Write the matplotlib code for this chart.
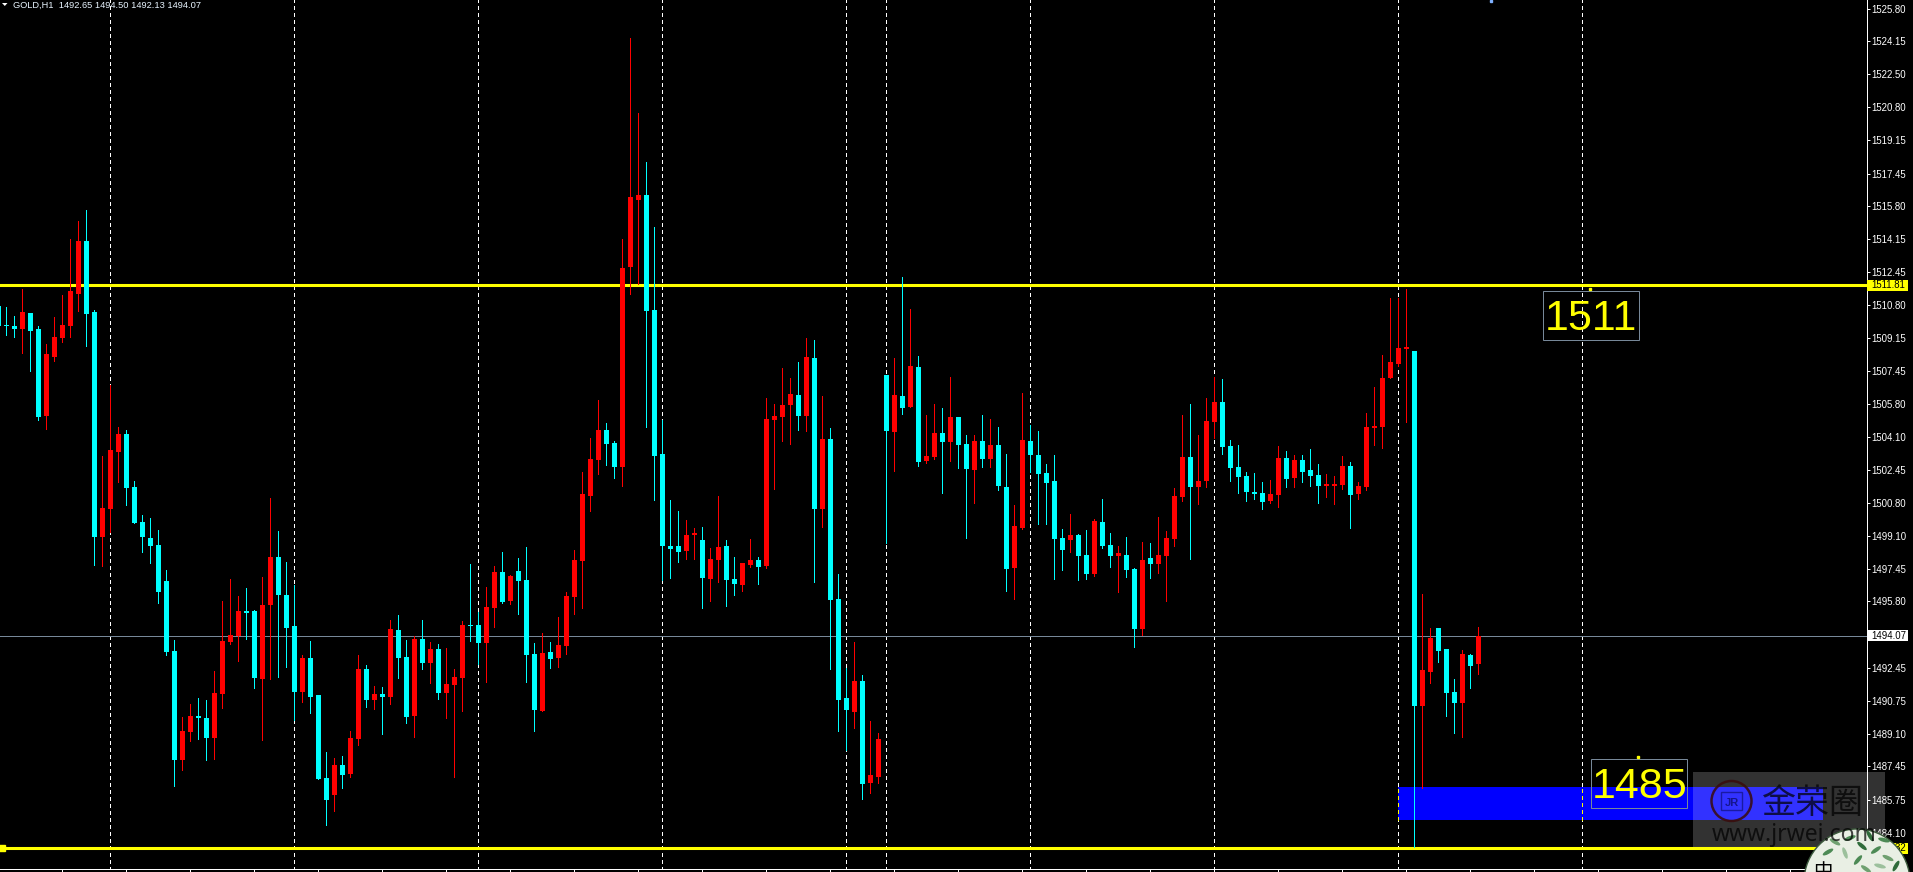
import numpy as np
import matplotlib
matplotlib.use("Agg")
import matplotlib.pyplot as plt
from matplotlib.patches import Rectangle, Circle, Ellipse

# hourly GOLD candles
opens = [1510.77, 1509.77, 1509.75, 1509.59, 1510.40, 1509.59, 1505.18, 1508.16, 1509.14, 1509.75,
         1511.38, 1514.04, 1510.45, 1499.08, 1500.48, 1503.37, 1504.27, 1501.59, 1499.82, 1499.01,
         1498.66, 1496.84, 1493.30, 1487.78, 1489.20, 1490.01, 1489.90, 1488.90, 1491.13, 1493.77,
         1494.05, 1495.33, 1495.33, 1491.88, 1495.63, 1498.05, 1496.14, 1494.56, 1491.23, 1492.95,
         1491.06, 1486.87, 1486.01, 1487.52, 1487.08, 1488.85, 1492.39, 1490.83, 1491.13, 1490.97,
         1494.37, 1493.00, 1490.01, 1493.91, 1492.69, 1493.39, 1491.18, 1491.58, 1491.92, 1494.60,
         1494.60, 1493.71, 1495.46, 1497.30, 1495.82, 1497.35, 1496.88, 1493.14, 1490.25, 1493.24,
         1492.93, 1493.55, 1496.03, 1497.84, 1501.14, 1502.95, 1504.47, 1503.83, 1502.61, 1512.74,
         1516.12, 1516.38, 1510.54, 1503.26, 1498.61, 1498.61, 1498.35, 1499.15, 1498.92, 1496.93,
         1497.89, 1498.61, 1496.93, 1496.62, 1497.66, 1497.89, 1497.61, 1504.99, 1505.15, 1505.74,
         1506.26, 1505.20, 1508.11, 1500.47, 1504.03, 1495.93, 1490.92, 1490.20, 1491.77, 1486.61,
         1486.92, 1507.26, 1504.37, 1506.20, 1505.64, 1507.68, 1502.90, 1503.11, 1504.33, 1503.87,
         1505.14, 1503.77, 1502.46, 1503.92, 1503.01, 1503.72, 1501.60, 1497.50, 1499.52, 1503.92,
         1503.21, 1502.30, 1501.90, 1499.01, 1498.91, 1499.17, 1498.15, 1497.19, 1499.82, 1498.66,
         1498.10, 1498.15, 1497.45, 1494.41, 1498.00, 1497.70, 1498.10, 1498.96, 1501.09, 1503.11,
         1501.60, 1501.90, 1504.89, 1505.90, 1503.67, 1502.61, 1502.15, 1501.34, 1501.29, 1500.89,
         1501.19, 1503.06, 1502.05, 1502.96, 1502.46, 1502.20, 1501.65, 1501.65, 1501.70, 1502.66,
         1501.24, 1501.60, 1504.58, 1504.63, 1507.11, 1507.82, 1508.58, 1508.48, 1490.51, 1492.24,
         1494.48, 1493.41, 1491.23, 1490.67, 1493.10, 1492.65]
highs = [1510.77, 1510.70, 1510.24, 1511.61, 1510.40, 1509.75, 1508.84, 1510.19, 1511.31, 1514.15,
         1515.06, 1515.62, 1510.56, 1503.16, 1506.77, 1504.62, 1504.48, 1501.90, 1500.20, 1500.03,
         1499.43, 1497.40, 1493.86, 1489.97, 1490.62, 1490.92, 1490.83, 1492.30, 1495.84, 1496.93,
         1496.07, 1496.49, 1495.37, 1497.05, 1501.04, 1499.38, 1497.80, 1496.65, 1493.11, 1493.81,
         1491.06, 1488.20, 1487.89, 1487.99, 1489.25, 1493.09, 1492.60, 1491.53, 1491.48, 1494.86,
         1495.12, 1493.86, 1494.05, 1494.86, 1493.77, 1493.63, 1493.44, 1492.39, 1494.81, 1497.70,
         1495.28, 1496.55, 1497.61, 1498.30, 1497.14, 1497.99, 1498.56, 1493.71, 1494.20, 1493.76,
         1495.02, 1496.29, 1498.41, 1502.36, 1504.09, 1506.00, 1504.84, 1503.93, 1514.16, 1524.33,
         1520.53, 1518.03, 1514.75, 1504.99, 1500.94, 1500.37, 1499.93, 1499.52, 1499.57, 1498.51,
         1501.14, 1498.92, 1498.04, 1497.76, 1498.97, 1498.04, 1506.10, 1505.79, 1507.62, 1507.11,
         1507.91, 1509.15, 1509.04, 1506.20, 1504.58, 1497.19, 1492.44, 1493.76, 1492.08, 1489.76,
         1489.14, 1507.26, 1508.11, 1512.22, 1510.59, 1508.22, 1505.25, 1505.79, 1505.59, 1507.16,
         1505.14, 1504.23, 1504.23, 1505.24, 1505.04, 1504.63, 1503.27, 1500.68, 1506.34, 1504.73,
         1504.43, 1502.76, 1503.21, 1499.47, 1500.23, 1499.22, 1499.42, 1499.98, 1500.99, 1499.27,
         1498.61, 1499.06, 1497.50, 1498.81, 1498.76, 1500.08, 1499.37, 1501.54, 1505.24, 1505.80,
         1504.23, 1506.10, 1507.16, 1507.06, 1503.97, 1503.72, 1502.35, 1502.30, 1501.85, 1501.95,
         1503.67, 1503.42, 1503.21, 1503.21, 1503.52, 1502.76, 1502.25, 1502.15, 1503.16, 1502.86,
         1501.85, 1505.34, 1506.66, 1508.28, 1511.16, 1511.16, 1511.62, 1508.48, 1496.19, 1494.48,
         1494.48, 1493.41, 1491.89, 1493.35, 1493.15, 1494.50]
lows = [1509.73, 1509.28, 1509.19, 1508.37, 1507.47, 1505.00, 1504.53, 1507.98, 1508.91, 1509.19,
        1510.49, 1508.72, 1497.66, 1497.59, 1499.31, 1501.85, 1500.69, 1499.78, 1498.31, 1497.75,
        1495.72, 1493.09, 1486.47, 1487.29, 1488.73, 1488.85, 1487.78, 1487.82, 1490.41, 1493.65,
        1492.79, 1493.91, 1491.44, 1488.80, 1491.88, 1491.97, 1492.48, 1489.80, 1490.71, 1490.15,
        1486.82, 1484.49, 1485.19, 1486.36, 1486.92, 1488.55, 1490.46, 1490.36, 1489.11, 1490.62,
        1491.92, 1489.66, 1488.94, 1492.39, 1491.67, 1490.88, 1489.90, 1486.92, 1490.27, 1493.81,
        1492.65, 1491.72, 1494.51, 1495.72, 1495.67, 1495.18, 1491.72, 1489.24, 1490.25, 1492.44,
        1492.49, 1493.14, 1495.18, 1495.46, 1500.37, 1502.25, 1502.72, 1502.05, 1501.63, 1511.37,
        1511.86, 1504.63, 1500.94, 1496.88, 1496.99, 1497.79, 1497.94, 1497.94, 1495.46, 1495.82,
        1496.78, 1495.57, 1496.13, 1496.34, 1497.55, 1496.68, 1497.50, 1501.50, 1503.93, 1503.78,
        1504.47, 1504.42, 1496.78, 1499.57, 1492.39, 1489.24, 1488.28, 1489.40, 1485.81, 1486.12,
        1486.61, 1498.77, 1502.41, 1505.30, 1505.64, 1502.67, 1502.80, 1503.00, 1501.29, 1502.91,
        1502.56, 1499.01, 1500.79, 1502.61, 1502.61, 1501.44, 1496.33, 1495.93, 1499.47, 1502.35,
        1499.72, 1499.72, 1496.94, 1497.39, 1498.31, 1496.89, 1496.94, 1497.09, 1498.51, 1497.55,
        1496.28, 1497.04, 1493.50, 1494.11, 1496.99, 1497.24, 1495.83, 1498.61, 1500.89, 1497.95,
        1500.74, 1501.60, 1504.08, 1503.27, 1501.90, 1501.29, 1500.89, 1500.99, 1500.48, 1500.79,
        1500.58, 1501.60, 1501.60, 1501.85, 1501.65, 1500.79, 1501.09, 1500.74, 1501.49, 1499.52,
        1500.99, 1501.44, 1503.72, 1503.57, 1507.11, 1507.72, 1504.89, 1483.38, 1486.36, 1491.68,
        1492.75, 1490.01, 1489.15, 1488.96, 1491.43, 1492.13]
closes = [1509.73, 1509.73, 1509.61, 1510.45, 1509.49, 1505.14, 1508.33, 1509.19, 1509.80, 1511.52,
          1514.04, 1510.36, 1499.08, 1500.55, 1503.46, 1504.27, 1501.55, 1499.78, 1499.08, 1498.61,
          1496.28, 1493.25, 1487.78, 1489.25, 1490.01, 1489.90, 1488.90, 1491.18, 1493.81, 1494.12,
          1495.33, 1495.21, 1491.92, 1495.63, 1498.05, 1496.14, 1494.46, 1491.23, 1492.95, 1490.97,
          1486.82, 1485.75, 1487.52, 1487.03, 1488.90, 1492.39, 1490.83, 1491.13, 1490.97, 1494.42,
          1492.95, 1489.97, 1493.91, 1492.69, 1493.39, 1491.18, 1491.62, 1491.97, 1494.60, 1494.56,
          1493.70, 1495.51, 1497.30, 1495.77, 1497.09, 1496.83, 1493.09, 1490.30, 1493.19, 1492.88,
          1493.60, 1496.08, 1497.89, 1501.25, 1503.00, 1504.47, 1503.78, 1502.61, 1512.68, 1516.27,
          1516.38, 1510.49, 1503.16, 1498.61, 1498.46, 1498.30, 1499.15, 1499.26, 1496.99, 1497.94,
          1498.56, 1496.88, 1496.68, 1497.76, 1497.89, 1497.55, 1505.04, 1505.20, 1505.74, 1506.31,
          1505.20, 1508.17, 1500.47, 1504.03, 1495.88, 1490.81, 1490.30, 1491.77, 1486.55, 1487.02,
          1488.85, 1504.42, 1506.26, 1505.58, 1507.73, 1502.85, 1503.16, 1504.32, 1503.87, 1505.14,
          1503.72, 1502.51, 1503.92, 1503.01, 1503.72, 1501.65, 1497.45, 1499.62, 1503.97, 1503.21,
          1502.25, 1501.80, 1498.96, 1498.41, 1499.17, 1498.10, 1497.19, 1499.87, 1498.61, 1498.10,
          1498.26, 1497.39, 1494.41, 1497.90, 1497.70, 1498.15, 1499.01, 1501.14, 1503.11, 1501.60,
          1501.90, 1504.94, 1505.90, 1503.62, 1502.56, 1502.10, 1501.34, 1501.24, 1500.84, 1501.24,
          1503.06, 1502.00, 1502.96, 1502.35, 1502.15, 1501.65, 1501.75, 1501.75, 1502.66, 1501.19,
          1501.65, 1504.63, 1504.68, 1507.11, 1507.92, 1508.63, 1508.68, 1490.51, 1492.34, 1493.95,
          1493.31, 1491.17, 1490.67, 1493.15, 1492.55, 1494.07]

price_ticks = [1525.80, 1524.15, 1522.50, 1520.80, 1519.15, 1517.45, 1515.80, 1514.15, 1512.45,
               1510.80, 1509.15, 1507.45, 1505.80, 1504.10, 1502.45, 1500.80, 1499.10, 1497.45,
               1495.80, 1492.45, 1490.75, 1489.10, 1487.45, 1485.75, 1484.10]
price_tick_labels = ["%.2f" % p for p in price_ticks]
period_seps = [14, 37, 60, 83, 106, 111, 129, 152, 175, 198]
resistance = 1511.81
support = 1483.32
bid = 1494.07
title = "GOLD,H1  1492.65 1494.50 1492.13 1494.07"

W, H = 1913, 872
plt.rcParams["font.family"] = ["Liberation Sans", "DejaVu Sans"]
fig = plt.figure(figsize=(W / 100, H / 100), dpi=100, facecolor="black")
ax = fig.add_axes([0, 3 / H, 1866.5 / W, 869 / H], facecolor="black")

x = np.arange(len(opens))
opens, highs, lows, closes = map(np.array, (opens, highs, lows, closes))
up = closes >= opens
colors = np.where(up, "#ff0000", "#00ffff")
px = 0.72  # one pixel in points

# separators sit behind everything
dash = (0, (4, 3))
ax.vlines(period_seps, 1482.2, 1526.3, color="white", lw=px, linestyle=dash, antialiased=False, zorder=1)

# blue zone, the separators turn yellow on it
ax.add_patch(Rectangle((175, 1484.74), 53.1, 1.67, fc="#0000ff", ec="none", zorder=2))
ax.vlines([175, 198], 1484.74, 1486.41, color="yellow", lw=px, linestyle=dash, antialiased=False, zorder=2.5)

ax.axhline(bid, color="#778899", lw=px, antialiased=False, zorder=3)
ax.axhline(resistance, color="yellow", lw=2.2, zorder=3)
ax.axhline(support, color="yellow", lw=2.2, zorder=3)
ax.plot([0.5], [support], "s", color="yellow", ms=4.5, zorder=3)

ax.vlines(x, lows, highs, colors=colors, lw=px, antialiased=False, zorder=4)
ax.bar(x, np.abs(closes - opens), bottom=np.minimum(opens, closes), width=0.625,
       color=colors, antialiased=False, linewidth=0, zorder=5)

# text boxes placed on the chart
for k0, p0, txt, kt, pt in [(193.1, 1509.03, "1511", 199.1, 1509.54),
                            (199.1, 1485.35, "1485", 205.2, 1485.87)]:
    ax.add_patch(Rectangle((k0, p0), 12, 2.46, fc="none", ec="#778899", lw=px, zorder=6))
    ax.text(kt, pt, txt, color="yellow", fontsize=31, ha="center", va="baseline", zorder=6)
ax.plot([199, 205], [1511.59, 1487.91], "s", color="yellow", ms=2, zorder=6)
ax.plot([186.6], [1526.2], "s", color="#7fb0ff", ms=1.5, zorder=6)

ax.set_xlim(0.21, 0.21 + 1866.5 / 8)
ax.set_ylim(1526.24 - 869 / 19.76, 1526.24)

for side in ["top", "left"]:
    ax.spines[side].set_visible(False)
for side in ["right", "bottom"]:
    ax.spines[side].set_color("white")
    ax.spines[side].set_linewidth(px)
    ax.spines[side].set_zorder(7)

ax.set_xticks(np.arange(8, 233, 8))
ax.set_xticklabels([])
ax.tick_params(axis="x", color="white", length=2.2, width=px, direction="out")
ax.yaxis.tick_right()
ax.set_yticks(price_ticks)
ax.set_yticklabels(price_tick_labels)
ax.tick_params(axis="y", colors="white", length=2.2, width=px, pad=1.3, labelsize=6.9)

# price tags on the right axis
ytrans = ax.get_yaxis_transform()
for price, bg in [(resistance, "yellow"), (bid, "white"), (support, "yellow")]:
    ax.add_patch(Rectangle((1 + 0.5 / 1866.5, price - 0.28), 41 / 1866.5, 0.56, transform=ytrans,
                           fc=bg, ec="none", clip_on=False, zorder=8))
    ax.text(1 + 4.8 / 1866.5, price, "%.2f" % price, transform=ytrans, color="black",
            fontsize=6.9, va="center", ha="left", zorder=9)

# pixel overlay for header and the site watermark
ov = fig.add_axes([0, 0, 1, 1], facecolor="none", zorder=10)
ov.set_xlim(0, W)
ov.set_ylim(H, 0)
ov.axis("off")

ov.fill([2, 7.5, 4.8], [3, 3, 6], color="white", lw=0)
ov.text(13.3, 7.5, title, color="#e8f4ff", fontsize=6.7, va="baseline", ha="left")

ov.add_patch(Rectangle((1693, 772), 192, 74.5, fc="white", alpha=0.2, ec="none"))
ov.add_patch(Circle((1731.5, 801), 20, fc="none", ec="#3a0c0c", lw=1.8, alpha=0.85))
ov.add_patch(Rectangle((1721, 792), 21, 18, fc="none", ec="#15158c", lw=1, alpha=0.8))
ov.text(1731.5, 806, "JR", color="#15158c", fontsize=8, ha="center", va="baseline", fontweight="bold")
ov.text(1812.5, 803, "金荣圈", color="black", alpha=0.72, fontsize=24.5, ha="center", va="center",
        family=["Noto Sans CJK SC", "DejaVu Sans"], fontweight="medium")
ov.text(1712, 841, "www.jrwei.com", color="black", alpha=0.72, fontsize=16.5, ha="left", va="baseline",
        family=["Noto Sans", "DejaVu Sans"])

disc = Circle((1857, 882), 53, fc="#e9efe4", ec="#3c5a3c", lw=1)
ov.add_patch(disc)
leaves = [(1835, 842, 30, "#6fa070"), (1850, 838, -20, "#4d8a55"), (1862, 846, 40, "#2f6b3a"),
          (1876, 850, -35, "#4d8a55"), (1888, 858, 25, "#6fa070"), (1870, 836, 60, "#2f6b3a"),
          (1845, 853, 70, "#9cc09c"), (1858, 860, -50, "#4d8a55"), (1896, 866, -60, "#2f6b3a"),
          (1880, 866, 15, "#9cc09c"), (1828, 852, -30, "#4d8a55"), (1866, 869, 35, "#6fa070"),
          (1884, 840, 15, "#4d8a55")]
for lx, ly, ang, leaf_col in leaves:
    leaf = Ellipse((lx, ly), 12, 4, angle=ang, fc=leaf_col, ec="none")
    ov.add_patch(leaf)
    leaf.set_clip_path(disc)
ov.text(1823, 871, "中", color="black", fontsize=14, ha="center", va="center",
        family=["Noto Sans CJK SC", "DejaVu Sans"])

fig.savefig("out.png", dpi=100, facecolor="black")
